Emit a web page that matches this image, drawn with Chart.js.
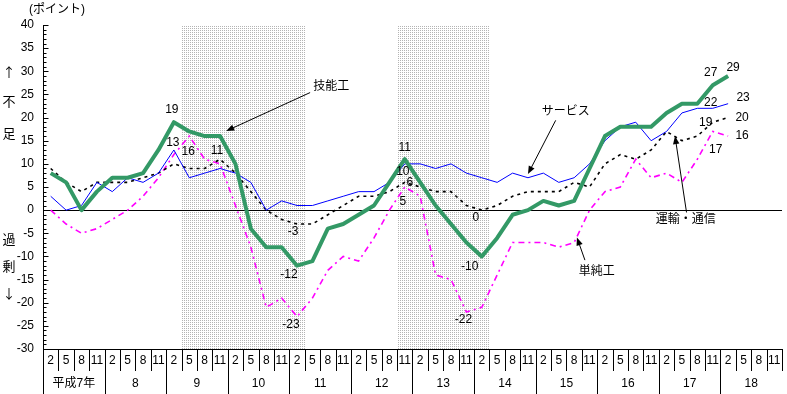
<!DOCTYPE html>
<html>
<head>
<meta charset="utf-8">
<script src="https://cdn.jsdelivr.net/npm/chart.js@4.4.1/dist/chart.umd.min.js"></script>
<style>
  html, body { margin: 0; padding: 0; background: #fff; }
</style>
</head>
<body>
<canvas id="dichart" width="787" height="394"></canvas>
<script>
// 労働者過不足判断DI（職種別）  平成7年2月〜18年2月
const months = ['2', '5', '8', '11'];
const years = ['平成7年', '8', '9', '10', '11', '12', '13', '14', '15', '16', '17', '18'];
const quarterLabels = years.flatMap(() => months);

const skilled   = [8, 6, 0, 4, 7, 7, 8, 13, 19, 17, 16, 16, 10, -4, -8, -8, -12, -11, -4, -3, -1, 1, 6, 11, 6, 1, -3, -7, -10, -6, -1, 0, 2, 1, 2, 9, 16, 18, 18, 18, 21, 23, 23, 27, 29];
const service   = [3, 0, 1, 6, 4, 7, 6, 8, 13, 7, 8, 9, 8, 6, 0, 2, 1, 1, 2, 3, 4, 4, 6, 10, 10, 9, 10, 8, 7, 6, 8, 7, 8, 6, 7, 10, 15, 18, 19, 15, 17, 21, 22, 22, 23];
const transport = [9, 6, 4, 6, 6, 6, 7, 8, 10, 9, 9, 11, 8, 4, 0, -2, -3, -3, -1, 1, 3, 3, 4, 6, 5, 4, 4, 1, 0, 1, 3, 4, 4, 4, 6, 5, 10, 12, 11, 13, 17, 15, 16, 19, 20];
const unskilled = [0, -3, -5, -4, -2, 0, 3, 7, 12, 16, 11, 10, 1, -8, -21, -19, -23, -19, -13, -10, -11, -6, 0, 5, 3, -14, -15, -22, -21, -14, -7, -7, -7, -8, -7, 0, 4, 5, 11, 7, 8, 6, 11, 17, 16];

// 景気後退期（シャドー部分）: first and last quarter index
const recessions = [[9, 16], [23, 28]];

// points whose values are written on the chart, per series
const labelPoints = [
  [8, 16, 23, 28, 43, 44],   // 技能工
  [8, 23, 43, 44],           // サービス
  [11, 16, 23, 28, 43, 44],  // 運輸・通信
  [9, 16, 23, 27, 43, 44]    // 単純工
];

const FONT = "'Liberation Sans', 'Noto Sans CJK JP', sans-serif";
const CJK = "'Noto Sans CJK JP', sans-serif";

// where each value label sits relative to its point
const labelNudge = {
  '0:8': [-2, -13], '0:16': [-8, 9], '0:23': [0, -12], '0:28': [-12, 10], '0:43': [-2, -12], '0:44': [5, -8],
  '1:8': [-1, -7], '1:23': [-2, 8], '1:43': [-2, -6], '1:44': [15, -6],
  '2:11': [-3, -9], '2:16': [-4, 8], '2:23': [5, 0], '2:28': [-6, 8], '2:43': [-7, 0], '2:44': [14, 0],
  '3:9': [-1, 16], '3:16': [-6, 8], '3:23': [-2, 15], '3:27': [-3, 8], '3:43': [3, 18], '3:44': [14, 0]
};

// callouts in data space: text at (ti, tv), arrow from (fi, fv) to (ai, av)
const callouts = [
  { text: '技能工',     ti: 17.05, tv: 26.6, fi: 16.85, fv: 25.4, ai: 11.4, av: 17.1 },
  { text: 'サービス',   ti: 31.9,  tv: 21.3, fi: 32.8,  fv: 19.4, ai: 31.0, av: 7.8 },
  { text: '運輸・通信', ti: 39.3,  tv: -2.1, fi: 41.3,  fv: -0.5, ai: 40.55, av: 16.0 },
  { text: '単純工',     ti: 34.3,  tv: -13.4, fi: 34.7, fv: -10.8, ai: 34.18, av: -5.9 }
];

function dotPattern(ctx) {
  const c = document.createElement('canvas');
  c.width = 2; c.height = 2;
  const p = c.getContext('2d');
  p.fillStyle = '#b4b4b4';
  p.fillRect(0, 0, 1, 1);
  return ctx.createPattern(c, 'repeat');
}

function arrow(ctx, x1, y1, x2, y2) {
  const ang = Math.atan2(y2 - y1, x2 - x1);
  const len = 8, w = 3.2;
  ctx.beginPath();
  ctx.moveTo(x1, y1);
  ctx.lineTo(x2 - Math.cos(ang) * len * 0.8, y2 - Math.sin(ang) * len * 0.8);
  ctx.stroke();
  ctx.beginPath();
  ctx.moveTo(x2, y2);
  ctx.lineTo(x2 - Math.cos(ang) * len + Math.sin(ang) * w, y2 - Math.sin(ang) * len - Math.cos(ang) * w);
  ctx.lineTo(x2 - Math.cos(ang) * len - Math.sin(ang) * w, y2 - Math.sin(ang) * len + Math.cos(ang) * w);
  ctx.closePath();
  ctx.fill();
}

const decor = {
  id: 'decor',
  beforeDatasetsDraw(chart) {
    const { ctx, chartArea: a, scales: { x, y } } = chart;
    const half = (x.getPixelForValue(1) - x.getPixelForValue(0)) / 2;
    ctx.save();
    ctx.fillStyle = dotPattern(ctx);
    recessions.forEach(([s, e]) => {
      const x0 = Math.round(x.getPixelForValue(s) - half);
      const x1 = Math.round(x.getPixelForValue(e) + half);
      ctx.fillRect(x0, a.top, x1 - x0, a.bottom - a.top);
    });
    const y0 = Math.round(y.getPixelForValue(0)) + 0.5;
    ctx.strokeStyle = '#000';
    ctx.lineWidth = 1.2;
    ctx.beginPath();
    ctx.moveTo(a.left, y0);
    ctx.lineTo(a.right, y0);
    ctx.stroke();
    ctx.restore();
  },
  afterDatasetsDraw(chart) {
    const { ctx, chartArea: a, scales: { x, y } } = chart;
    const H = chart.height;
    ctx.save();
    ctx.strokeStyle = '#000';
    ctx.fillStyle = '#000';
    ctx.lineWidth = 1;

    // y axis ticks (inside), axis line down to the bottom
    const xl = Math.round(a.left) + 0.5;
    ctx.beginPath();
    ctx.moveTo(xl, a.top);
    ctx.lineTo(xl, H);
    for (let v = -30; v <= 40; v++) {
      const py = Math.round(y.getPixelForValue(v)) + 0.5;
      ctx.moveTo(xl, py);
      ctx.lineTo(xl + (v % 5 === 0 ? 5 : 3), py);
    }
    // quarter / year separators
    const half = (x.getPixelForValue(1) - x.getPixelForValue(0)) / 2;
    for (let k = 1; k <= quarterLabels.length; k++) {
      const px = Math.round(x.getPixelForValue(k) - half) + 0.5;
      const longLine = k % 4 === 0 && k < quarterLabels.length;
      ctx.moveTo(px, a.bottom);
      ctx.lineTo(px, longLine ? H : a.bottom + 22);
    }
    ctx.stroke();

    ctx.font = '12px ' + FONT;
    ctx.textAlign = 'center';
    ctx.textBaseline = 'middle';
    years.forEach((yr, i) => {
      const cx = (x.getPixelForValue(i * 4) + x.getPixelForValue(i * 4 + 3)) / 2;
      ctx.fillText(yr, cx, a.bottom + 35);
    });

    // value labels
    chart.data.datasets.forEach((ds, si) => {
      labelPoints[si].forEach(idx => {
        const [dx, dy] = labelNudge[si + ':' + idx] || [0, -10];
        const v = ds.data[idx];
        ctx.fillText(String(v), x.getPixelForValue(idx) + dx, y.getPixelForValue(v) + dy);
      });
    });

    // callouts
    ctx.textAlign = 'left';
    callouts.forEach(c => {
      ctx.fillText(c.text, x.getPixelForValue(c.ti), y.getPixelForValue(c.tv));
      arrow(ctx, x.getPixelForValue(c.fi), y.getPixelForValue(c.fv),
                 x.getPixelForValue(c.ai), y.getPixelForValue(c.av));
    });

    // unit and side captions
    ctx.fillText('(ポイント)', 29, 10);
    ctx.textAlign = 'center';
    ctx.font = '13px ' + CJK;
    [['↑', 72], ['不', 101], ['足', 133], ['過', 239], ['剰', 266], ['↓', 293]]
      .forEach(([t, py]) => ctx.fillText(t, 9, py));
    ctx.restore();
  }
};

const ctx = document.getElementById('dichart').getContext('2d');
new Chart(ctx, {
  type: 'line',
  data: {
    labels: quarterLabels,
    datasets: [
      { label: '技能工', data: skilled, borderColor: '#339966', borderWidth: 4, pointRadius: 0, tension: 0, borderJoinStyle: 'round' },
      { label: 'サービス', data: service, borderColor: '#0000ff', borderWidth: 1, pointRadius: 0, tension: 0 },
      { label: '運輸・通信', data: transport, borderColor: '#000000', borderWidth: 1.6, borderDash: [3, 4], pointRadius: 0, tension: 0 },
      { label: '単純工', data: unskilled, borderColor: '#ff00ff', borderWidth: 1.6, borderDash: [6, 4, 2, 4], pointRadius: 0, tension: 0 }
    ]
  },
  options: {
    responsive: false,
    animation: false,
    devicePixelRatio: 1,
    layout: { padding: { top: 25, right: 5, left: 0, bottom: 0 } },
    plugins: { legend: { display: false }, tooltip: { enabled: false } },
    scales: {
      x: {
        offset: true,
        grid: { display: false, drawTicks: false },
        border: { color: '#000', width: 1 },
        ticks: { color: '#000', font: { size: 12, family: FONT }, maxRotation: 0, autoSkip: false, padding: 4 },
        afterFit: s => { s.height = 45; }
      },
      y: {
        min: -30,
        max: 40,
        grid: { display: false, drawTicks: false },
        border: { display: false },
        ticks: { stepSize: 5, color: '#000', font: { size: 12, family: FONT }, padding: 9 },
        afterFit: s => { s.width = 43; }
      }
    }
  },
  plugins: [decor]
});
</script>
</body>
</html>
